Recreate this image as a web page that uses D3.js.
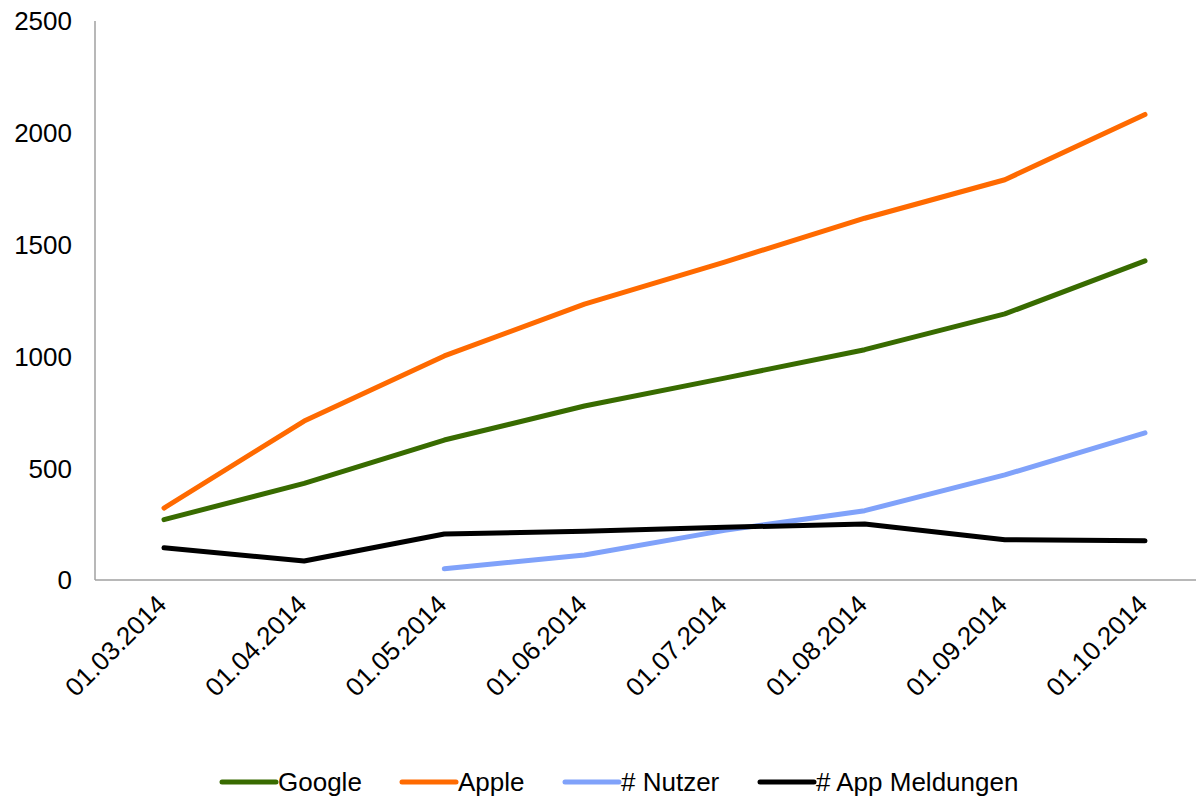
<!DOCTYPE html>
<html>
<head>
<meta charset="utf-8">
<script src="https://cdn.jsdelivr.net/npm/d3@7"></script>
<style>
  body { margin: 0; background: #fff; }
  text { font-family: "Liberation Sans", Arial, sans-serif; fill: #000; }
</style>
</head>
<body>
<div id="chart"></div>
<script>
// chart size
const WIDTH = 1196;
const HEIGHT = 801;

// data
const dates = ["01.03.2014", "01.04.2014", "01.05.2014", "01.06.2014",
               "01.07.2014", "01.08.2014", "01.09.2014", "01.10.2014"];
const google = [270, 432, 626, 778, 903, 1030, 1190, 1427];
const apple = [322, 711, 1002, 1234, 1422, 1618, 1790, 2082];
const nutzer = [null, null, 50, 112, 222, 310, 470, 658];
const appMeldungen = [144, 85, 206, 218, 236, 250, 180, 175];
const yTicks = [0, 500, 1000, 1500, 2000, 2500];

const seriesNames = ["Google", "Apple", "# Nutzer", "# App Meldungen"];
const seriesColors = ["#386b00", "#ff6a00", "#80a2fa", "#000000"];
const seriesValues = [google, apple, nutzer, appMeldungen];

const svg = d3.select("#chart")
              .append("svg")
                .attr("width", WIDTH)
                .attr("height", HEIGHT);

// scales
const x = d3.scalePoint()
            .domain(dates)
            .range([164, 1145]);

const y = d3.scaleLinear()
            .domain([0, 2500])
            .range([580, 21]);

// y axis line and labels
svg.append("line")
    .attr("x1", 95).attr("x2", 95)
    .attr("y1", y(2500)).attr("y2", y(0))
    .attr("stroke", "#a0a0a0")
    .attr("stroke-width", 1.5);

svg.selectAll(".ylab")
    .data(yTicks)
    .enter()
    .append("text")
      .attr("class", "ylab")
      .attr("x", 72)
      .attr("y", (d) => y(d))
      .attr("dy", "0.36em")
      .attr("text-anchor", "end")
      .attr("font-size", 26)
      .text((d) => d);

// x axis line and rotated labels
svg.append("line")
    .attr("x1", 95).attr("x2", 1196)
    .attr("y1", y(0)).attr("y2", y(0))
    .attr("stroke", "#a0a0a0")
    .attr("stroke-width", 1.5);

svg.selectAll(".xlab")
    .data(dates)
    .enter()
    .append("text")
      .attr("class", "xlab")
      .attr("text-anchor", "end")
      .attr("font-size", 26)
      .attr("transform", (d) => "translate(" + (x(d) + 4) + "," + 606 + ") rotate(-45)")
      .text((d) => d);

// lines
const line = d3.line()
               .defined((d) => d != null)
               .x((d, i) => x(dates[i]))
               .y((d) => y(d));

seriesValues.forEach((vals, i) => {
  svg.append("path")
      .datum(vals)
      .attr("d", line)
      .attr("fill", "none")
      .attr("stroke", seriesColors[i])
      .attr("stroke-width", 5)
      .attr("stroke-linecap", "round")
      .attr("stroke-linejoin", "round");
});

// legend
const legendX = [222, 402, 565, 760];
const legend = svg.selectAll(".legend")
                  .data(seriesNames)
                  .enter()
                  .append("g")
                    .attr("class", "legend")
                    .attr("transform", (d, i) => "translate(" + legendX[i] + ",782)");

legend.append("line")
    .attr("x1", 0).attr("x2", 54)
    .attr("y1", 0).attr("y2", 0)
    .attr("stroke", (d, i) => seriesColors[i])
    .attr("stroke-width", 5)
    .attr("stroke-linecap", "round");

legend.append("text")
    .attr("x", 56)
    .attr("dy", "0.36em")
    .attr("font-size", 26)
    .text((d) => d);
</script>
</body>
</html>
